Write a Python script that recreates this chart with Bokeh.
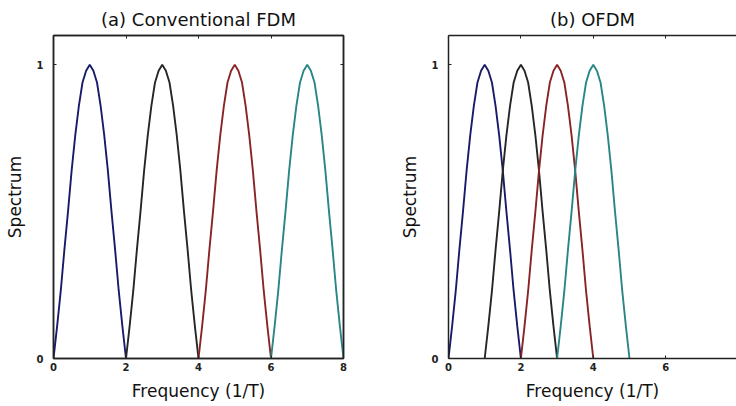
from bokeh.plotting import figure
from bokeh.models import LinearAxis, FixedTicker, Range1d, CustomLabelingPolicy
from bokeh.layouts import row
from bokeh.embed import file_html
from bokeh.resources import INLINE

# Shape of one sub-carrier main lobe (offset -1..1 step 0.1)
lobe_offsets = [-1.0, -0.9, -0.8, -0.7, -0.6, -0.5, -0.4, -0.3, -0.2, -0.1, 0.0,
                0.1, 0.2, 0.3, 0.4, 0.5, 0.6, 0.7, 0.8, 0.9, 1.0]
lobe_values = [0.0, 0.11, 0.23, 0.37, 0.50, 0.64, 0.76, 0.86, 0.94, 0.98, 1.0,
               0.98, 0.94, 0.86, 0.76, 0.64, 0.50, 0.37, 0.23, 0.11, 0.0]

fdm_centers = [1, 3, 5, 7]
ofdm_centers = [1, 2, 3, 4]
colors = ["#1a1a6a", "#262626", "#8a2424", "#2a8585"]

x_ticks = [0, 2, 4, 6, 8]
y_ticks = [0, 1]

FONT = "DejaVu Sans"

hide_labels = CustomLabelingPolicy(code="""
    for (const i of indices) { indices.unset(i) }
    return indices
""")


def style(p, title, right_axis=True):
    p.title.text = title
    p.title.align = "center"
    p.title.text_font = FONT
    p.title.text_font_size = "18px"
    p.title.text_font_style = "normal"
    p.title.text_color = "#111111"
    p.title.standoff = 4
    p.xgrid.visible = False
    p.ygrid.visible = False
    p.background_fill_color = "white"
    p.border_fill_color = "white"
    for ax in (p.xaxis[0], p.yaxis[0]):
        ax.major_tick_in = 3
        ax.major_tick_out = 0
        ax.minor_tick_line_color = None
        ax.axis_line_color = "#222222"
        ax.axis_line_width = 1.5
        ax.major_tick_line_color = "#222222"
        ax.major_label_text_font = FONT
        ax.major_label_text_font_size = "10px"
        ax.major_label_text_font_style = "bold"
        ax.major_label_text_color = "#222222"
        ax.axis_label_text_font = FONT
        ax.axis_label_text_font_size = "17px"
        ax.axis_label_text_font_style = "normal"
        ax.axis_label_text_color = "#111111"
    p.xaxis[0].ticker = FixedTicker(ticks=x_ticks)
    p.yaxis[0].ticker = FixedTicker(ticks=y_ticks)
    p.xaxis[0].axis_label = "Frequency (1/T)"
    p.yaxis[0].axis_label = "Spectrum"
    p.xaxis[0].major_label_standoff = 4
    p.xaxis[0].axis_label_standoff = 7
    p.yaxis[0].major_label_standoff = 10
    p.yaxis[0].axis_label_standoff = 9
    sides = [("above", x_ticks)]
    if right_axis:
        sides.append(("right", y_ticks))
    for side, ticks in sides:
        ax = LinearAxis(ticker=FixedTicker(ticks=ticks))
        ax.major_tick_in = 3
        ax.major_tick_out = 0
        ax.minor_tick_line_color = None
        ax.axis_line_color = "#222222"
        ax.axis_line_width = 1.5
        ax.major_tick_line_color = "#222222"
        ax.major_label_text_font_size = "1px"
        ax.major_label_standoff = 0
        ax.major_label_policy = hide_labels
        p.add_layout(ax, side)


def draw(p, centers):
    for c, col in zip(centers, colors):
        xs = [c + o for o in lobe_offsets]
        p.line(xs, lobe_values, line_color=col, line_width=1.9)


pa = figure(width=395, height=406, x_range=Range1d(0, 8), y_range=Range1d(0, 1.1),
            output_backend="svg", toolbar_location=None,
            min_border_left=53, min_border_right=52, min_border_top=35, min_border_bottom=48)
pa.outline_line_color = "#222222"
pa.outline_line_width = 1.5
draw(pa, fdm_centers)
style(pa, "(a) Conventional FDM")

pb = figure(width=341, height=406, x_range=Range1d(0, 7.956), y_range=Range1d(0, 1.1),
            output_backend="svg", toolbar_location=None,
            min_border_left=53, min_border_right=0, min_border_top=35, min_border_bottom=48)
pb.outline_line_color = None
draw(pb, ofdm_centers)
style(pb, "(b) OFDM", right_axis=False)

layout = row(pa, pb)
open("out.html", "w").write(file_html(layout, INLINE))
